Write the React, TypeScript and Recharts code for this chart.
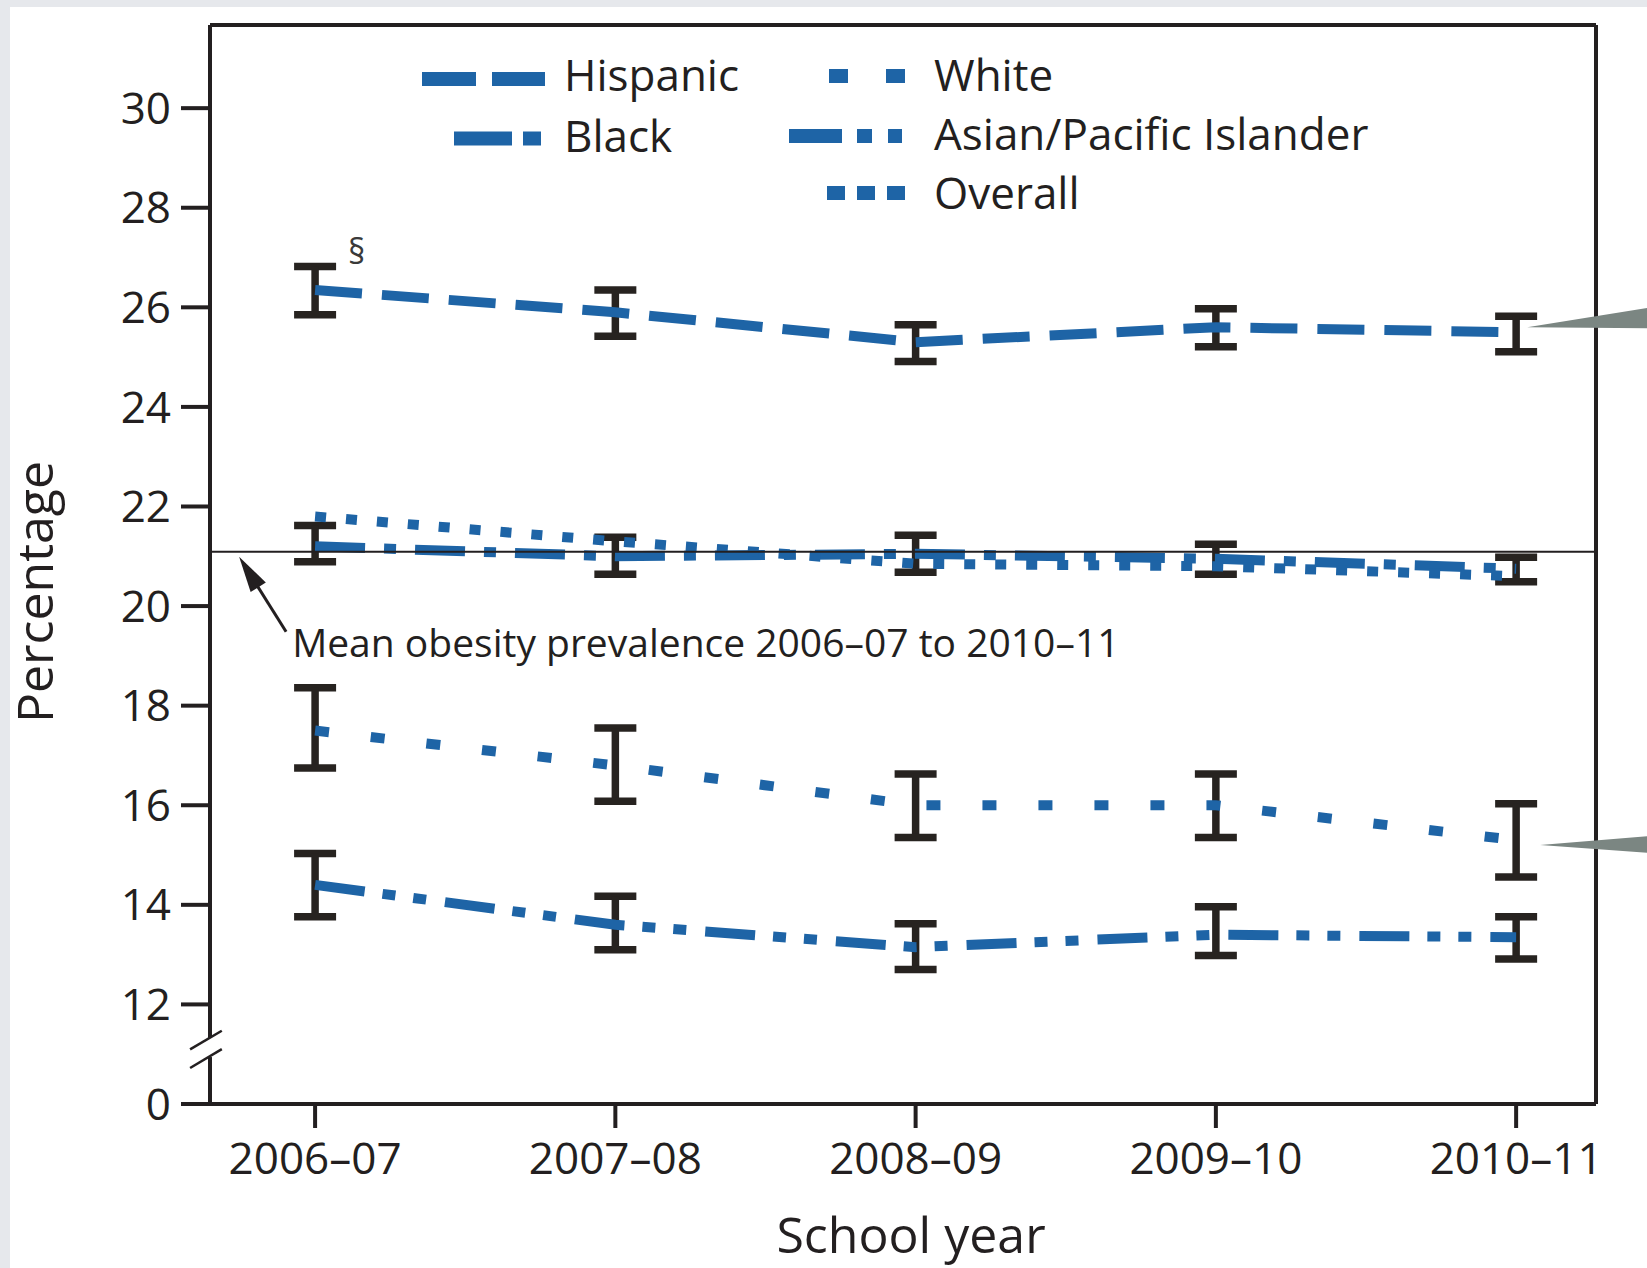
import React from 'react';
import {
  LineChart,
  Line,
  XAxis,
  YAxis,
  ErrorBar,
  ReferenceLine,
  ReferenceDot,
  Legend,
  Label,
} from 'recharts';

// ---------- data ----------
const years = ['2006–07', '2007–08', '2008–09', '2009–10', '2010–11'];
const seriesNames = ['Hispanic', 'Black', 'White', 'Asian/Pacific Islander', 'Overall'];

const hispanic = [26.35, 25.9, 25.3, 25.6, 25.5];
const hispanicLow = [25.85, 25.42, 24.91, 25.21, 25.11];
const hispanicHigh = [26.82, 26.35, 25.65, 25.97, 25.82];

const black = [21.2, 21.0, 21.05, 20.95, 20.75];
const blackLow = [20.89, 20.64, 20.68, 20.64, 20.49];
const blackHigh = [21.62, 21.38, 21.42, 21.24, 20.98];

const white = [17.5, 16.8, 16.0, 16.0, 15.3];
const whiteLow = [16.75, 16.08, 15.35, 15.35, 14.56];
const whiteHigh = [18.36, 17.55, 16.63, 16.63, 16.03];

const asian = [14.4, 13.6, 13.15, 13.4, 13.35];
const asianLow = [13.76, 13.1, 12.7, 12.98, 12.91];
const asianHigh = [15.03, 14.17, 13.62, 13.96, 13.76];

const overall = [21.8, 21.3, 20.85, 20.8, 20.6];
const meanPrevalence = 21.09;

const yTicks = [10, 12, 14, 16, 18, 20, 22, 24, 26, 28, 30];
const yTickLabels = ['0', '12', '14', '16', '18', '20', '22', '24', '26', '28', '30'];
const xTicks = [0, 1, 2, 3, 4];

// ---------- derived table ----------
const err = (v: number[], lo: number[], hi: number[], i: number) => [
  +(v[i] - lo[i]).toFixed(3),
  +(hi[i] - v[i]).toFixed(3),
];
const data = years.map((year, i) => ({
  i,
  year,
  hispanic: hispanic[i],
  hispanicErr: err(hispanic, hispanicLow, hispanicHigh, i),
  black: black[i],
  blackErr: err(black, blackLow, blackHigh, i),
  white: white[i],
  whiteErr: err(white, whiteLow, whiteHigh, i),
  asian: asian[i],
  asianErr: err(asian, asianLow, asianHigh, i),
  overall: overall[i],
}));

// ---------- styles ----------
const FONT = "'Open Sans', 'Noto Sans', sans-serif";
const INK = '#231f20';
const BLUE = '#1e64a6';
const POINTER = '#7b8682';
const X_MIN = -0.35;
const X_MAX = 4.266;
const Y_MIN = 10;
const Y_MAX = 31.67;

const lineStyles = [
  { key: 'hispanic', dash: '47 20', err: true },
  { key: 'black', dash: '50 19 12 19', err: true },
  { key: 'white', dash: '14 42', err: true },
  { key: 'asian', dash: '50 18 13 18 13 19', err: true },
  { key: 'overall', dash: '11 20', err: false },
];

const LegendBox = () => {
  const items = [
    { x1: 422, x2: 545, y: 79, dash: '54 16', tx: 564, ty: 91 },
    { x1: 454, x2: 541, y: 138.5, dash: '58 11 18 300', tx: 564, ty: 152 },
    { x1: 829, x2: 905, y: 76, dash: '19 38 19 300', tx: 934, ty: 91 },
    { x1: 789, x2: 902, y: 136, dash: '53 15 15 16 14 300', tx: 934, ty: 150 },
    { x1: 827, x2: 905, y: 193, dash: '18 12 18 12 18 300', tx: 934, ty: 209 },
  ];
  return (
    <svg width={1647} height={240} style={{ display: 'block' }}>
      {items.map((it, k) => (
        <g key={k}>
          <line
            x1={it.x1}
            x2={it.x2}
            y1={it.y}
            y2={it.y}
            stroke={BLUE}
            strokeWidth={14}
            strokeDasharray={it.dash}
          />
          <text x={it.tx} y={it.ty} fontSize={44} fontFamily={FONT} fill={INK}>
            {seriesNames[k]}
          </text>
        </g>
      ))}
    </svg>
  );
};

export default function App() {
  return (
    <div
      style={{
        position: 'absolute',
        left: 0,
        top: 0,
        width: 1647,
        height: 1268,
        background: '#e6e8ec',
        overflow: 'hidden',
      }}
    >
      <div style={{ position: 'absolute', left: 10, top: 7, right: 0, bottom: 0, background: '#ffffff' }} />
      <div style={{ position: 'absolute', left: 0, top: 0 }}>
        <LineChart
          width={1647}
          height={1268}
          data={data}
          margin={{ top: 25, right: 51, bottom: 64, left: 110 }}
        >
          <XAxis
            type="number"
            dataKey="i"
            domain={[X_MIN, X_MAX]}
            allowDataOverflow
            ticks={xTicks}
            interval={0}
            tickFormatter={(v: number) => years[v]}
            height={100}
            tickSize={24}
            tickMargin={15}
            axisLine={{ stroke: INK, strokeWidth: 4 }}
            tickLine={{ stroke: INK, strokeWidth: 4 }}
            tick={{ fill: INK, fontSize: 44, fontFamily: FONT }}
          >
            <Label
              content={() => (
                <text x={911} y={1253} textAnchor="middle" fontSize={50} fontFamily={FONT} fill={INK}>
                  School year
                </text>
              )}
            />
          </XAxis>
          <YAxis
            type="number"
            domain={[Y_MIN, Y_MAX]}
            allowDataOverflow
            ticks={yTicks}
            interval={0}
            tickFormatter={(v: number) => yTickLabels[yTicks.indexOf(v)]}
            width={100}
            tickSize={29}
            tickMargin={10}
            axisLine={false}
            tickLine={{ stroke: INK, strokeWidth: 4 }}
            tick={{ fill: INK, fontSize: 44, fontFamily: FONT }}
          >
            <Label
              content={() => (
                <text
                  x={53}
                  y={592}
                  transform="rotate(-90 53 592)"
                  textAnchor="middle"
                  fontSize={50}
                  fontFamily={FONT}
                  fill={INK}
                >
                  Percentage
                </text>
              )}
            />
          </YAxis>

          <Legend
            layout="vertical"
            align="center"
            verticalAlign="middle"
            wrapperStyle={{ left: 0, top: 0, width: 1647, height: 240, pointerEvents: 'none' }}
            content={() => <LegendBox />}
          />

          {lineStyles
            .filter((s) => s.err)
            .map((s) => (
              <Line
                key={s.key + '-err'}
                dataKey={s.key}
                stroke="none"
                dot={false}
                activeDot={false}
                legendType="none"
                isAnimationActive={false}
              >
                <ErrorBar
                  dataKey={s.key + 'Err'}
                  direction="y"
                  width={21}
                  strokeWidth={7.5}
                  stroke="#272320"
                  isAnimationActive={false}
                />
              </Line>
            ))}

          {lineStyles.map((s) => (
            <Line
              key={s.key}
              dataKey={s.key}
              stroke={BLUE}
              strokeWidth={10}
              strokeDasharray={s.dash}
              dot={false}
              activeDot={false}
              isAnimationActive={false}
            />
          ))}

          {/* mean line */}
          <ReferenceLine y={meanPrevalence} stroke={INK} strokeWidth={2} ifOverflow="visible" />

          {/* frame */}
          <ReferenceLine y={Y_MAX} stroke={INK} strokeWidth={4} ifOverflow="visible" />
          <ReferenceLine x={X_MAX} stroke={INK} strokeWidth={4} ifOverflow="visible" />
          <ReferenceLine
            segment={[
              { x: X_MIN, y: 11.325 },
              { x: X_MIN, y: Y_MAX },
            ]}
            stroke={INK}
            strokeWidth={4}
            ifOverflow="visible"
          />
          <ReferenceLine
            segment={[
              { x: X_MIN, y: Y_MIN },
              { x: X_MIN, y: 10.943 },
            ]}
            stroke={INK}
            strokeWidth={4}
            ifOverflow="visible"
          />
          {/* axis break slashes */}
          <ReferenceLine
            segment={[
              { x: -0.4163, y: 11.097 },
              { x: -0.3107, y: 11.472 },
            ]}
            stroke={INK}
            strokeWidth={2.5}
            ifOverflow="visible"
          />
          <ReferenceLine
            segment={[
              { x: -0.4163, y: 10.722 },
              { x: -0.3107, y: 11.103 },
            ]}
            stroke={INK}
            strokeWidth={2.5}
            ifOverflow="visible"
          />

          {/* section sign */}
          <ReferenceDot
            x={0}
            y={hispanicHigh[0]}
            ifOverflow="visible"
            shape={(p: any) => (
              <text x={p.cx + 33} y={p.cy - 2} fontSize={34} fontFamily={FONT} fill="#3a3a3a">
                §
              </text>
            )}
          />

          {/* mean annotation with arrow */}
          <ReferenceDot
            x={-0.253}
            y={meanPrevalence}
            ifOverflow="visible"
            shape={(p: any) => {
              const tx = p.cx;
              const ty = p.cy + 5;
              return (
                <g>
                  <line x1={tx + 15} y1={ty + 24} x2={tx + 47} y2={ty + 75} stroke={INK} strokeWidth={3} />
                  <polygon
                    points={`${tx},${ty} ${tx + 11.5},${ty + 35.3} ${tx + 26.7},${ty + 25.7}`}
                    fill={INK}
                  />
                  <text x={p.cx + 53} y={p.cy + 105} fontSize={39} fontFamily={FONT} fill={INK}>
                    Mean obesity prevalence 2006–07 to 2010–11
                  </text>
                </g>
              );
            }}
          />

          {/* gray pointers at right edge */}
          <ReferenceDot
            x={4.037}
            y={25.6}
            ifOverflow="visible"
            shape={(p: any) => (
              <polygon
                points={`${p.cx},${p.cy} ${p.cx + 125},${p.cy - 20} ${p.cx + 125},${p.cy + 1}`}
                fill={POINTER}
              />
            )}
          />
          <ReferenceDot
            x={4.08}
            y={15.2}
            ifOverflow="visible"
            shape={(p: any) => (
              <polygon
                points={`${p.cx},${p.cy} ${p.cx + 110},${p.cy - 9} ${p.cx + 110},${p.cy + 8}`}
                fill={POINTER}
              />
            )}
          />
        </LineChart>
      </div>
    </div>
  );
}
